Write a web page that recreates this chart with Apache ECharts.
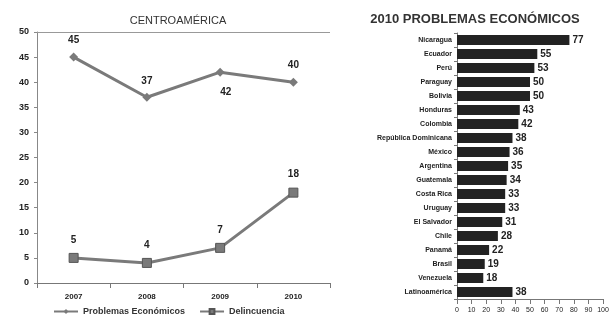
<!DOCTYPE html>
<html><head><meta charset="utf-8">
<script src="https://cdn.jsdelivr.net/npm/echarts@6/dist/echarts.min.js"></script>
<style>html,body{margin:0;padding:0;background:#fff}#c{width:615px;height:321px}</style>
</head><body><div id="c"></div>
<script>
const years = ['2007', '2008', '2009', '2010'];
const problemasEconomicos = [45, 37, 42, 40];
const delincuencia = [5, 4, 7, 18];
const countries = ['Nicaragua','Ecuador','Perú','Paraguay','Bolivia','Honduras','Colombia','República Dominicana','México','Argentina','Guatemala','Costa Rica','Uruguay','El Salvador','Chile','Panamá','Brasil','Venezuela','Latinoamérica'];
const values2010 = [77,55,53,50,50,43,42,38,36,35,34,33,33,31,28,22,19,18,38];
const yTicksLeft = [0,5,10,15,20,25,30,35,40,45,50];

const chart = echarts.init(document.getElementById('c'));
const font = 'Liberation Sans, Arial, sans-serif';
chart.setOption({
  animation: false,
  textStyle: {fontFamily: font},
  title: [
    {text: 'CENTROAMÉRICA', left: 173, top: 10, textAlign: 'center',
     textStyle: {fontSize: 11, fontWeight: 'normal', color: '#333', fontFamily: font}},
    {text: '2010 PROBLEMAS ECONÓMICOS', left: 470, top: 8, textAlign: 'center',
     textStyle: {fontSize: 13, fontWeight: 'bold', color: '#333', fontFamily: font}}
  ],
  legend: {
    data: ['Problemas Económicos', 'Delincuencia'],
    left: 48, top: 302, itemGap: 14,
    itemWidth: 24, itemHeight: 6,
    textStyle: {fontSize: 9, fontWeight: 'bold', color: '#333'}
  },
  grid: [
    {left: 37, right: 285, top: 32, bottom: 38},
    {left: 457, right: 12, top: 33, bottom: 22}
  ],
  xAxis: [
    {gridIndex: 0, type: 'category', data: years, boundaryGap: true,
     axisLine: {lineStyle: {color: '#777'}}, axisTick: {show: true, lineStyle: {color: '#777'}},
     axisLabel: {fontSize: 8, fontWeight: 'bold', color: '#222', margin: 10}},
    {gridIndex: 1, type: 'value', min: 0, max: 100, interval: 10,
     axisLine: {show: true, lineStyle: {color: '#777'}}, axisTick: {show: true, lineStyle: {color: '#777'}},
     splitLine: {show: false},
     axisLabel: {fontSize: 7, color: '#222', margin: 8}}
  ],
  yAxis: [
    {gridIndex: 0, type: 'value', min: 0, max: 50, interval: 5,
     axisLine: {show: true, lineStyle: {color: '#888'}}, axisTick: {show: true, length: 3, lineStyle: {color: '#888'}},
     splitLine: {show: false},
     axisLabel: {fontSize: 9, fontWeight: 'bold', color: '#222', margin: 8,
       formatter: v => yTicksLeft.includes(v) ? String(v) : ''}},
    {gridIndex: 1, type: 'category', data: countries, inverse: true,
     axisLine: {show: true, lineStyle: {color: '#777'}}, axisTick: {show: true, length: 3, lineStyle: {color: '#777'}},
     axisLabel: {fontSize: 7, fontWeight: 'bold', color: '#222', margin: 5}}
  ],
  series: [
    {name: 'Problemas Económicos', type: 'line', xAxisIndex: 0, yAxisIndex: 0,
     data: problemasEconomicos, symbol: 'diamond', symbolSize: 9,
     lineStyle: {color: '#7a7a7a', width: 3}, itemStyle: {color: '#7a7a7a'},
     label: {show: true, position: 'top', distance: 7, fontSize: 10, fontWeight: 'bold', color: '#222'},
     labelLayout: (p) => p.dataIndex === 2 ? {y: p.rect.y + 20} : {},
     markLine: {silent: true, symbol: 'none', label: {show: false},
       lineStyle: {color: '#999', type: 'solid', width: 1}, data: [{yAxis: 50}]}},
    {name: 'Delincuencia', type: 'line', xAxisIndex: 0, yAxisIndex: 0,
     data: delincuencia, symbol: 'rect', symbolSize: 9,
     lineStyle: {color: '#7a7a7a', width: 3}, itemStyle: {color: '#7a7a7a', borderColor: '#555', borderWidth: 1},
     label: {show: true, position: 'top', distance: 8, fontSize: 10, fontWeight: 'bold', color: '#222'}},
    {name: 'bars', type: 'bar', xAxisIndex: 1, yAxisIndex: 1,
     data: values2010, barWidth: 10,
     itemStyle: {color: '#222'},
     label: {show: true, position: 'right', distance: 3, fontSize: 10, fontWeight: 'bold', color: '#222'}}
  ]
});
</script></body></html>
